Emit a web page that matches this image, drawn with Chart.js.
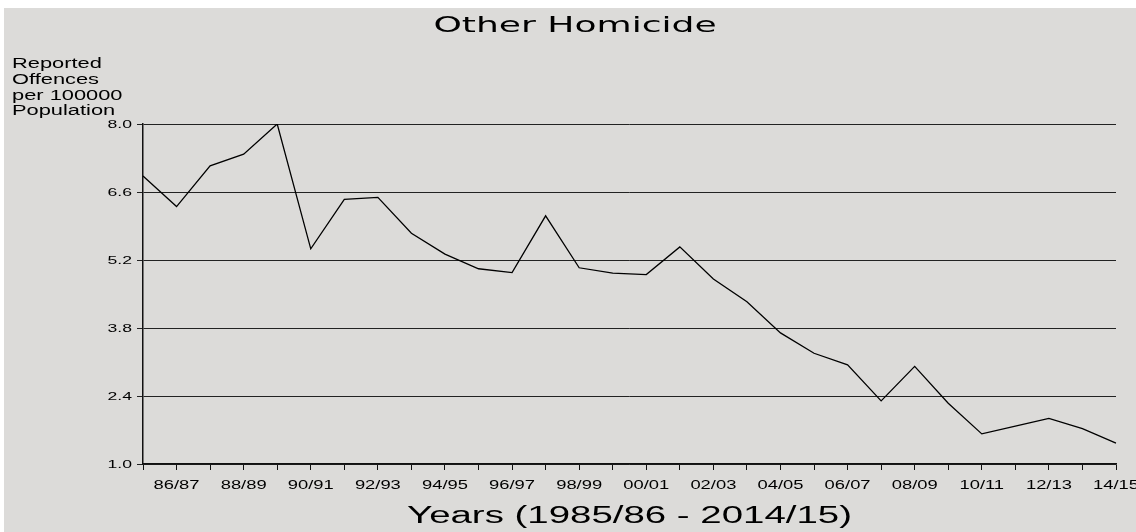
<!DOCTYPE html>
<html lang="en">
  <head>
    <meta charset="UTF-8" />
    <title>Other Homicide</title>
    <style>
      * {
        box-sizing: border-box;
        margin: 0;
        padding: 0;
      }
      body,
      html {
        width: 1136px;
        height: 532px;
        background-color: white;
        overflow: hidden;
      }
      .chart__container {
        position: absolute;
        left: 4px;
        top: 8px;
        width: 1132px;
        height: 524px;
        background-color: #dcdbd9;
      }
    </style>
  </head>
  <body>
    <div class="chart__container">
      <canvas id="homicideChart" width="1132" height="524"></canvas>
    </div>
    <script src="https://cdn.jsdelivr.net/npm/chart.js"></script>
    <script>
      const years = [
        "85/86", "86/87", "87/88", "88/89", "89/90", "90/91", "91/92", "92/93",
        "93/94", "94/95", "95/96", "96/97", "97/98", "98/99", "99/00", "00/01",
        "01/02", "02/03", "03/04", "04/05", "05/06", "06/07", "07/08", "08/09",
        "09/10", "10/11", "11/12", "12/13", "13/14", "14/15",
      ];
      const rates = [
        6.93, 6.3, 7.14, 7.38, 8.0, 5.43, 6.45, 6.49, 5.75, 5.32, 5.02, 4.94,
        6.11, 5.04, 4.93, 4.9, 5.47, 4.81, 4.34, 3.7, 3.28, 3.04, 2.3, 3.01,
        2.25, 1.62, 1.78, 1.94, 1.73, 1.43,
      ];
      const yTicks = [1.0, 2.4, 3.8, 5.2, 6.6, 8.0];
      const titleText = "Other Homicide";
      const yTitleLines = ["Reported", "Offences", "per 100000", "Population"];
      const xTitleText = "Years (1985/86 - 2014/15)";

      // the reference text is wide, so draw it stretched sideways
      function wideText(ctx, text, x, y, font, align, stretch) {
        ctx.save();
        ctx.font = font;
        ctx.fillStyle = "#000";
        ctx.textAlign = align;
        ctx.textBaseline = "alphabetic";
        ctx.translate(x, y);
        ctx.scale(stretch, 1);
        ctx.fillText(text, 0, 0);
        ctx.restore();
      }

      const textPlugin = {
        id: "wideLabels",
        afterDraw(chart) {
          const ctx = chart.ctx;
          const xs = chart.scales.x;
          const ys = chart.scales.y;
          const area = chart.chartArea;

          wideText(ctx, titleText, 571, 24, "22px 'DejaVu Sans'", "center", 1.64);

          yTitleLines.forEach((line, i) => {
            wideText(ctx, line, 8, 60 + i * 15.8, "14px 'Liberation Sans'", "left", 1.56);
          });

          ys.ticks.forEach((t) => {
            const y = ys.getPixelForValue(t.value);
            wideText(ctx, t.value.toFixed(1), area.left - 11, y + 4, "11px 'Liberation Sans'", "right", 1.6);
          });

          years.forEach((label, i) => {
            if (i % 2 === 0) return;
            const x = xs.getPixelForTick(i);
            wideText(ctx, label, x, 481, "12px 'Liberation Sans'", "center", 1.53);
          });

          wideText(ctx, xTitleText, (area.left + area.right) / 2, 515, "23px 'Liberation Sans'", "center", 1.67);
        },
      };

      document.addEventListener("DOMContentLoaded", function () {
        const ctx = document.getElementById("homicideChart").getContext("2d");

        new Chart(ctx, {
          type: "line",
          data: {
            labels: years,
            datasets: [
              {
                label: titleText,
                data: rates,
                borderColor: "#000",
                borderWidth: 1.3,
                pointRadius: 0,
                tension: 0,
                fill: false,
              },
            ],
          },
          options: {
            responsive: false,
            animation: false,
            devicePixelRatio: 1,
            layout: {
              padding: { left: 0, top: 116, right: 20, bottom: 0 },
            },
            plugins: {
              legend: { display: false },
              tooltip: { enabled: false },
            },
            scales: {
              x: {
                offset: false,
                afterFit: (scale) => {
                  scale.height = 68;
                },
                ticks: { display: false, autoSkip: false },
                grid: {
                  drawOnChartArea: false,
                  drawTicks: true,
                  tickLength: 6,
                  color: "#111",
                },
                border: { display: true, color: "#111", width: 1.5 },
              },
              y: {
                min: 1,
                max: 8,
                afterFit: (scale) => {
                  scale.width = 139;
                },
                afterBuildTicks: (scale) => {
                  scale.ticks = yTicks.map((v) => ({ value: v }));
                },
                ticks: { display: false },
                grid: {
                  drawTicks: true,
                  tickLength: 6,
                  color: "#222",
                  lineWidth: 1,
                },
                border: { display: true, color: "#111", width: 1.5 },
              },
            },
          },
          plugins: [textPlugin],
        });
      });
    </script>
  </body>
</html>
